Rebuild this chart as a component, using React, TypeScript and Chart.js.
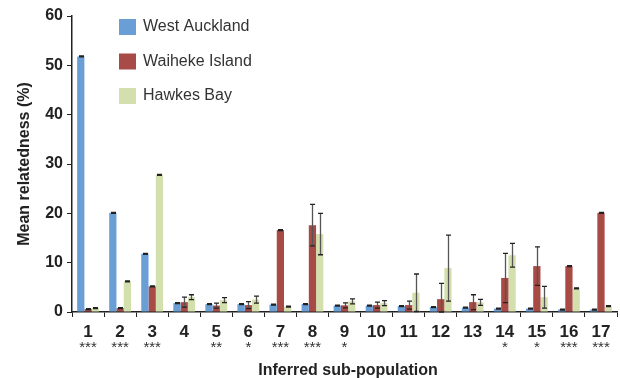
import React, { useEffect, useRef } from "react";
import { Chart, registerables } from "chart.js";

Chart.register(...registerables);

const categories = ["1","2","3","4","5","6","7","8","9","10","11","12","13","14","15","16","17"];
const significance = ["***","***","***","","**","*","***","***","*","","","","","*","*","***","***"];

const seriesNames = ["West Auckland", "Waiheke Island", "Hawkes Bay"];
const seriesColors = ["#6A9FD6", "#A84A45", "#D3E0AE"];

const westAuckland = [51.8, 20.1, 11.8, 1.8, 1.6, 1.6, 1.5, 1.6, 1.3, 1.3, 1.2, 1.0, 0.9, 0.7, 0.7, 0.5, 0.5];
const waihekeIsland = [0.6, 0.8, 5.2, 2.0, 1.3, 1.4, 16.6, 17.6, 1.35, 1.4, 1.4, 2.6, 2.0, 6.9, 9.3, 9.3, 20.1];
const hawkesBay = [0.8, 6.2, 27.8, 3.0, 2.4, 2.5, 1.1, 15.8, 2.15, 1.8, 3.9, 8.9, 1.95, 11.5, 3.0, 4.8, 1.2];

const westAucklandErr = [0.1, 0.1, 0.1, 0.1, 0.1, 0.1, 0.1, 0.1, 0.1, 0.1, 0.1, 0.1, 0.1, 0.1, 0.1, 0.1, 0.1];
const waihekeIslandErr = [0.1, 0.1, 0.1, 1.0, 0.5, 0.7, 0.1, 4.2, 0.5, 0.6, 0.8, 3.2, 1.5, 5.0, 3.9, 0.1, 0.1];
const hawkesBayErr = [0.1, 0.1, 0.1, 0.5, 0.5, 0.7, 0.1, 4.2, 0.5, 0.5, 3.8, 6.7, 0.6, 2.4, 2.2, 0.1, 0.1];

const yTicks = [0, 10, 20, 30, 40, 50, 60];

const FONT = "'Liberation Sans', Arial, Helvetica, sans-serif";

const errorBarPlugin = {
  id: "errorBars",
  afterDatasetsDraw(chart: any) {
    const errs = [westAucklandErr, waihekeIslandErr, hawkesBayErr];
    const vals = [westAuckland, waihekeIsland, hawkesBay];
    const ys = chart.scales.y;
    const ctx = chart.ctx;
    ctx.save();
    for (let d = 0; d < 3; d++) {
      const meta = chart.getDatasetMeta(d);
      meta.data.forEach((el: any, j: number) => {
        const v = vals[d][j];
        const e = errs[d][j];
        const top = ys.getPixelForValue(v + e);
        const bot = ys.getPixelForValue(Math.max(0, v - e));
        const x = Math.round(el.x) + 0.5;
        ctx.strokeStyle = "#555";
        ctx.lineWidth = 1.3;
        ctx.beginPath();
        ctx.moveTo(x, top);
        ctx.lineTo(x, bot);
        ctx.stroke();
        ctx.strokeStyle = "#222";
        ctx.lineWidth = 1.3;
        ctx.beginPath();
        ctx.moveTo(x - 2.5, top);
        ctx.lineTo(x + 2.5, top);
        ctx.moveTo(x - 2.5, bot);
        ctx.lineTo(x + 2.5, bot);
        ctx.stroke();
      });
    }
    ctx.restore();
  },
};

const decorPlugin = {
  id: "decor",
  afterDraw(chart: any) {
    const ctx = chart.ctx;
    const xs = chart.scales.x;
    const area = chart.chartArea;
    ctx.save();
    // significance stars
    ctx.fillStyle = "#333";
    ctx.font = `15px ${FONT}`;
    ctx.textAlign = "center";
    ctx.textBaseline = "middle";
    significance.forEach((s, i) => {
      if (!s) return;
      ctx.fillText(s, xs.getPixelForValue(i), 348);
    });
    // axis titles
    ctx.fillStyle = "#222";
    ctx.font = `bold 16px ${FONT}`;
    ctx.fillText("Inferred sub-population", 348, 371);
    ctx.save();
    ctx.translate(25, (area.top + area.bottom) / 2);
    ctx.rotate(-Math.PI / 2);
    ctx.fillText("Mean relatedness (%)", 0, 0);
    ctx.restore();
    // legend
    ctx.font = `16px ${FONT}`;
    ctx.textAlign = "left";
    seriesNames.forEach((name, i) => {
      const y = 27 + i * 34.5;
      ctx.fillStyle = seriesColors[i];
      ctx.fillRect(119, y - 8, 17, 16);
      ctx.fillStyle = "#333";
      ctx.fillText(name, 143, y);
    });
    ctx.restore();
  },
};

export default function App() {
  const ref = useRef<HTMLCanvasElement | null>(null);
  useEffect(() => {
    if (!ref.current) return;
    const datasets = [westAuckland, waihekeIsland, hawkesBay].map((d, i) => ({
      label: seriesNames[i],
      data: d,
      backgroundColor: seriesColors[i],
      borderWidth: 0,
      categoryPercentage: 0.68,
      barPercentage: 1.0,
    }));
    const chart = new Chart(ref.current, {
      type: "bar",
      data: { labels: categories, datasets },
      options: {
        responsive: false,
        animation: false,
        layout: { padding: { top: 16, right: 3, left: 0, bottom: 0 } },
        plugins: { legend: { display: false }, tooltip: { enabled: false } },
        scales: {
          x: {
            offset: true,
            grid: {
              offset: true,
              drawOnChartArea: false,
              drawTicks: true,
              tickLength: 5,
              color: "#222",
            },
            border: { color: "#222", width: 1.5 },
            ticks: {
              color: "#222",
              font: { family: FONT, size: 17, weight: "bold" },
              padding: 5,
              maxRotation: 0,
              autoSkip: false,
            },
            afterFit(scale: any) {
              scale.height = 66;
            },
          },
          y: {
            min: 0,
            max: 60,
            afterBuildTicks(scale: any) {
              scale.ticks = yTicks.map((v) => ({ value: v }));
            },
            grid: {
              drawOnChartArea: false,
              drawTicks: true,
              tickLength: 5,
              color: "#222",
            },
            border: { color: "#222", width: 1.5 },
            ticks: {
              color: "#222",
              font: { family: FONT, size: 16, weight: "bold" },
              padding: 4,
            },
            afterFit(scale: any) {
              scale.width = 72;
            },
          },
        },
      },
      plugins: [errorBarPlugin, decorPlugin],
    });
    return () => chart.destroy();
  }, []);
  return (
    <div style={{ position: "absolute", left: 0, top: 0, width: 620, height: 378, background: "#fff" }}>
      <canvas ref={ref} width={620} height={378} style={{ width: 620, height: 378 }} />
    </div>
  );
}
